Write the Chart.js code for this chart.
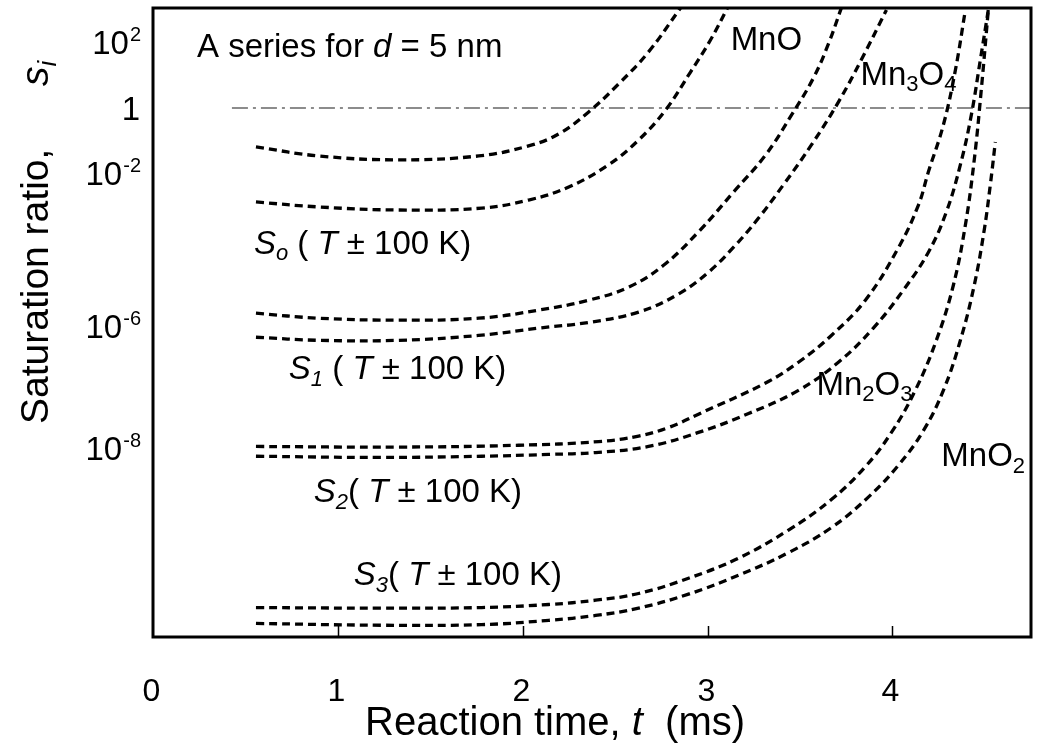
<!DOCTYPE html>
<html lang="en">
<head>
<meta charset="UTF-8">
<title>Saturation ratio vs reaction time</title>
<script src="https://cdn.jsdelivr.net/npm/chart.js"></script>
<style>
    html, body { margin: 0; padding: 0; background: #fff; }
    .container { width: 1038px; height: 755px; }
</style>
</head>
<body>
<div class="container"><canvas id="satChart" width="1038" height="755"></canvas></div>
<script>
// reaction time t (ms) and log10 of the saturation ratio
// each phase has two curves (T + 100 K / T - 100 K)
const tMnO_a = [0.557, 0.897, 1.330, 1.762, 2.032, 2.195, 2.357, 2.519, 2.681, 2.854];
const sMnO_a = [-1.20, -1.48, -1.60, -1.48, -1.17, -0.80, -0.12, 0.73, 1.70, 3.03];
const tMnO_b = [0.557, 0.897, 1.330, 1.778, 2.032, 2.249, 2.465, 2.627, 2.773, 2.908, 3.016, 3.108];
const sMnO_b = [-2.76, -2.89, -2.97, -2.92, -2.71, -2.37, -1.75, -0.99, -0.06, 1.09, 2.06, 3.03];

const tMn3O4_a = [0.557, 0.897, 1.330, 1.762, 2.086, 2.357, 2.573, 2.762, 2.951, 3.141, 3.314, 3.454, 3.573, 3.654, 3.724];
const sMn3O4_a = [-5.66, -5.79, -5.84, -5.79, -5.58, -5.32, -4.98, -4.41, -3.54, -2.50, -1.45, -0.22, 0.91, 1.94, 3.03];
const tMn3O4_b = [0.557, 0.897, 1.330, 1.762, 2.086, 2.357, 2.627, 2.843, 3.005, 3.141, 3.276, 3.411, 3.562, 3.708, 3.832, 3.968];
const sMn3O4_b = [-6.18, -6.23, -6.23, -6.15, -6.03, -5.90, -5.63, -5.16, -4.59, -3.94, -3.18, -2.31, -1.14, 0.18, 1.46, 2.97];

const tMn2O3_a = [0.557, 1.330, 1.978, 2.411, 2.627, 2.789, 2.951, 3.314, 3.492, 3.670, 3.854, 4.032, 4.141, 4.195, 4.276, 4.341, 4.395];
const sMn2O3_a = [-7.97, -7.98, -7.95, -7.89, -7.80, -7.66, -7.44, -6.93, -6.59, -6.15, -5.32, -3.96, -2.84, -1.97, -0.52, 1.15, 2.97];
const tMn2O3_b = [0.557, 1.238, 1.778, 2.141, 2.395, 2.681, 2.951, 3.222, 3.492, 3.708, 3.897, 4.059, 4.195, 4.292, 4.368, 4.427, 4.476, 4.519];
const sMn2O3_b = [-8.13, -8.15, -8.13, -8.10, -8.07, -7.97, -7.74, -7.43, -7.05, -6.59, -6.03, -5.06, -4.07, -3.02, -1.75, -0.22, 1.46, 2.97];

const tMnO2_a = [0.557, 1.238, 1.778, 2.141, 2.395, 2.627, 2.897, 3.168, 3.438, 3.670, 3.854, 3.995, 4.124, 4.238, 4.330, 4.395, 4.443, 4.481, 4.519];
const sMnO2_a = [-10.61, -10.62, -10.61, -10.56, -10.49, -10.38, -10.13, -9.80, -9.34, -8.84, -8.30, -7.74, -7.05, -6.23, -4.93, -3.36, -1.60, 0.55, 2.97];
const tMnO2_b = [0.557, 1.238, 1.778, 2.141, 2.395, 2.627, 2.897, 3.168, 3.438, 3.670, 3.870, 4.032, 4.168, 4.276, 4.368, 4.443, 4.497, 4.530, 4.557];
const sMnO2_b = [-10.87, -10.90, -10.89, -10.82, -10.74, -10.62, -10.39, -10.08, -9.71, -9.30, -8.80, -8.28, -7.71, -7.05, -6.23, -4.93, -3.49, -2.31, -1.05];

// s = 1 reference line
const tUnity = [0.427, 4.75];
const sUnity = [0, 0];

// axis ticks
const xTicks = [0, 1, 2, 3, 4];
const yTickExp = [2, 0, -2, -6, -8];
const yTickBase = ['10', '1', '10', '10', '10'];
const yTickSup = ['2', '', '-2', '-6', '-8'];

// the original figure's log axis is not evenly spaced, so map exponent -> axis fraction piecewise
const warpExp = [-8, -6, -2, 0, 2];
const warpFrac = [0.300, 0.494, 0.738, 0.841, 0.946];

function warp(v) {
    let i = 0;
    while (i < warpExp.length - 2 && v > warpExp[i + 1]) i++;
    const k = (warpFrac[i + 1] - warpFrac[i]) / (warpExp[i + 1] - warpExp[i]);
    return warpFrac[i] + (v - warpExp[i]) * k;
}
function unwarp(f) {
    let i = 0;
    while (i < warpFrac.length - 2 && f > warpFrac[i + 1]) i++;
    const k = (warpExp[i + 1] - warpExp[i]) / (warpFrac[i + 1] - warpFrac[i]);
    return warpExp[i] + (f - warpFrac[i]) * k;
}

class WarpScale extends Chart.LinearScale {
    getPixelForValue(v) { return this.getPixelForDecimal(warp(v)); }
    getValueForPixel(p) { return unwarp(this.getDecimalForPixel(p)); }
}
WarpScale.id = 'warp';
WarpScale.defaults = Chart.LinearScale.defaults;
Chart.register(WarpScale);

const FONT = '"Liberation Sans", Arial, sans-serif';

// text labels placed in data coordinates (left edge, vertical middle)
const notes = [
    { t: 0.238, s: 1.91, parts: [['A series for '], ['d', 'it'], [' = 5 nm']] },
    { t: 3.125, s: 2.12, parts: [['MnO']] },
    { t: 3.827, s: 1.06, parts: [['Mn'], ['3', 'sub'], ['O'], ['4', 'sub']] },
    { t: 3.589, s: -6.93, parts: [['Mn'], ['2', 'sub'], ['O'], ['3', 'sub']] },
    { t: 4.265, s: -8.10, parts: [['MnO'], ['2', 'sub']] },
    { t: 0.546, s: -3.80, parts: [['S', 'it'], ['o', 'it sub'], [' ( '], ['T', 'it'], [' \u00b1 100 K)']] },
    { t: 0.735, s: -6.67, parts: [['S', 'it'], ['1', 'it sub'], [' ( '], ['T', 'it'], [' \u00b1 100 K)']] },
    { t: 0.870, s: -8.69, parts: [['S', 'it'], ['2', 'it sub'], ['( '], ['T', 'it'], [' \u00b1 100 K)']] },
    { t: 1.086, s: -10.05, parts: [['S', 'it'], ['3', 'it sub'], ['( '], ['T', 'it'], [' \u00b1 100 K)']] }
];

function drawRich(ctx, x, y, parts, size) {
    let cx = x;
    for (const [txt, st = ''] of parts) {
        const sub = st.includes('sub'), sup = st.includes('sup');
        const fs = (sub || sup) ? Math.round(size * 0.66) : size;
        ctx.font = (st.includes('it') ? 'italic ' : '') + fs + 'px ' + FONT;
        const dy = sub ? size * 0.2 : sup ? -size * 0.4 : 0;
        ctx.fillText(txt, cx, y + dy);
        cx += ctx.measureText(txt).width;
    }
    return cx;
}

function curve(ts, ss) {
    return ts.map((t, i) => ({ x: t, y: ss[i] }));
}

const dashed = {
    borderColor: '#000',
    borderWidth: 3.3,
    borderDash: [8, 5],
    pointRadius: 0,
    fill: false,
    tension: 0.4
};

const overlay = {
    id: 'overlay',
    afterDraw(chart) {
        const ctx = chart.ctx, a = chart.chartArea;
        const xs = chart.scales.x, ys = chart.scales.y;
        ctx.save();
        ctx.fillStyle = '#000';
        ctx.strokeStyle = '#000';

        // frame
        ctx.lineWidth = 3;
        ctx.strokeRect(a.left, a.top, a.right - a.left, a.bottom - a.top);

        // inward ticks + labels on the time axis
        ctx.lineWidth = 1.5;
        ctx.textAlign = 'center';
        ctx.textBaseline = 'alphabetic';
        ctx.font = '32px ' + FONT;
        xTicks.forEach(v => {
            const px = Math.round(xs.getPixelForValue(v)) + 0.5;
            if (v !== 0) {
                ctx.beginPath();
                ctx.moveTo(px, a.bottom);
                ctx.lineTo(px, a.bottom - 11);
                ctx.stroke();
            }
            ctx.fillText(String(v), px - 2, 701);
        });

        // y tick labels, with superscript exponents
        ctx.textAlign = 'left';
        yTickExp.forEach((v, i) => {
            const py = ys.getPixelForValue(v) + 12;
            ctx.font = '20px ' + FONT;
            const supW = ctx.measureText(yTickSup[i]).width;
            ctx.font = '33px ' + FONT;
            const baseW = ctx.measureText(yTickBase[i]).width;
            const x0 = 140 - supW - baseW;
            ctx.fillText(yTickBase[i], x0, py);
            ctx.font = '20px ' + FONT;
            ctx.fillText(yTickSup[i], x0 + baseW + 1, py - 13);
        });

        // axis titles
        drawRich(ctx, 365, 735, [['Reaction time, '], ['t', 'it'], ['  (ms)']], 40);
        ctx.save();
        ctx.translate(48, 424);
        ctx.rotate(-Math.PI / 2);
        drawRich(ctx, 0, 0, [['Saturation ratio,']], 39);
        drawRich(ctx, 338, 0, [['s', 'it'], ['i', 'it sub']], 39);
        ctx.restore();

        // curve labels
        notes.forEach(n => {
            const x = xs.getPixelForValue(n.t);
            const y = ys.getPixelForValue(n.s) + 33 * 0.36;
            drawRich(ctx, x, y, n.parts, 33);
        });
        ctx.restore();
    }
};

const ctx = document.getElementById('satChart').getContext('2d');
new Chart(ctx, {
    type: 'line',
    data: {
        datasets: [
            { ...dashed, label: 'MnO a', data: curve(tMnO_a, sMnO_a) },
            { ...dashed, label: 'MnO b', data: curve(tMnO_b, sMnO_b) },
            { ...dashed, label: 'Mn3O4 a', data: curve(tMn3O4_a, sMn3O4_a) },
            { ...dashed, label: 'Mn3O4 b', data: curve(tMn3O4_b, sMn3O4_b) },
            { ...dashed, label: 'Mn2O3 a', data: curve(tMn2O3_a, sMn2O3_a) },
            { ...dashed, label: 'Mn2O3 b', data: curve(tMn2O3_b, sMn2O3_b) },
            { ...dashed, label: 'MnO2 a', data: curve(tMnO2_a, sMnO2_a) },
            { ...dashed, label: 'MnO2 b', data: curve(tMnO2_b, sMnO2_b) },
            {
                label: 's = 1',
                data: curve(tUnity, sUnity),
                borderColor: '#8c8c8c',
                borderWidth: 2,
                borderDash: [16, 5, 3, 5],
                pointRadius: 0,
                fill: false
            }
        ]
    },
    options: {
        responsive: false,
        animation: false,
        layout: { padding: { top: 8, right: 7, left: 0, bottom: 0 } },
        plugins: { legend: { display: false }, tooltip: { enabled: false } },
        scales: {
            x: {
                type: 'linear',
                min: 0,
                max: 4.75,
                grid: { display: false, drawTicks: false },
                border: { display: false },
                ticks: { display: false },
                afterFit(scale) { scale.height = 118; }
            },
            y: {
                type: 'warp',
                min: -11.09,
                max: 3.03,
                grid: { display: false, drawTicks: false },
                border: { display: false },
                ticks: { display: false },
                afterBuildTicks(scale) { scale.ticks = yTickExp.map(v => ({ value: v })); },
                afterFit(scale) { scale.width = 153; }
            }
        }
    },
    plugins: [overlay]
});
</script>
</body>
</html>
